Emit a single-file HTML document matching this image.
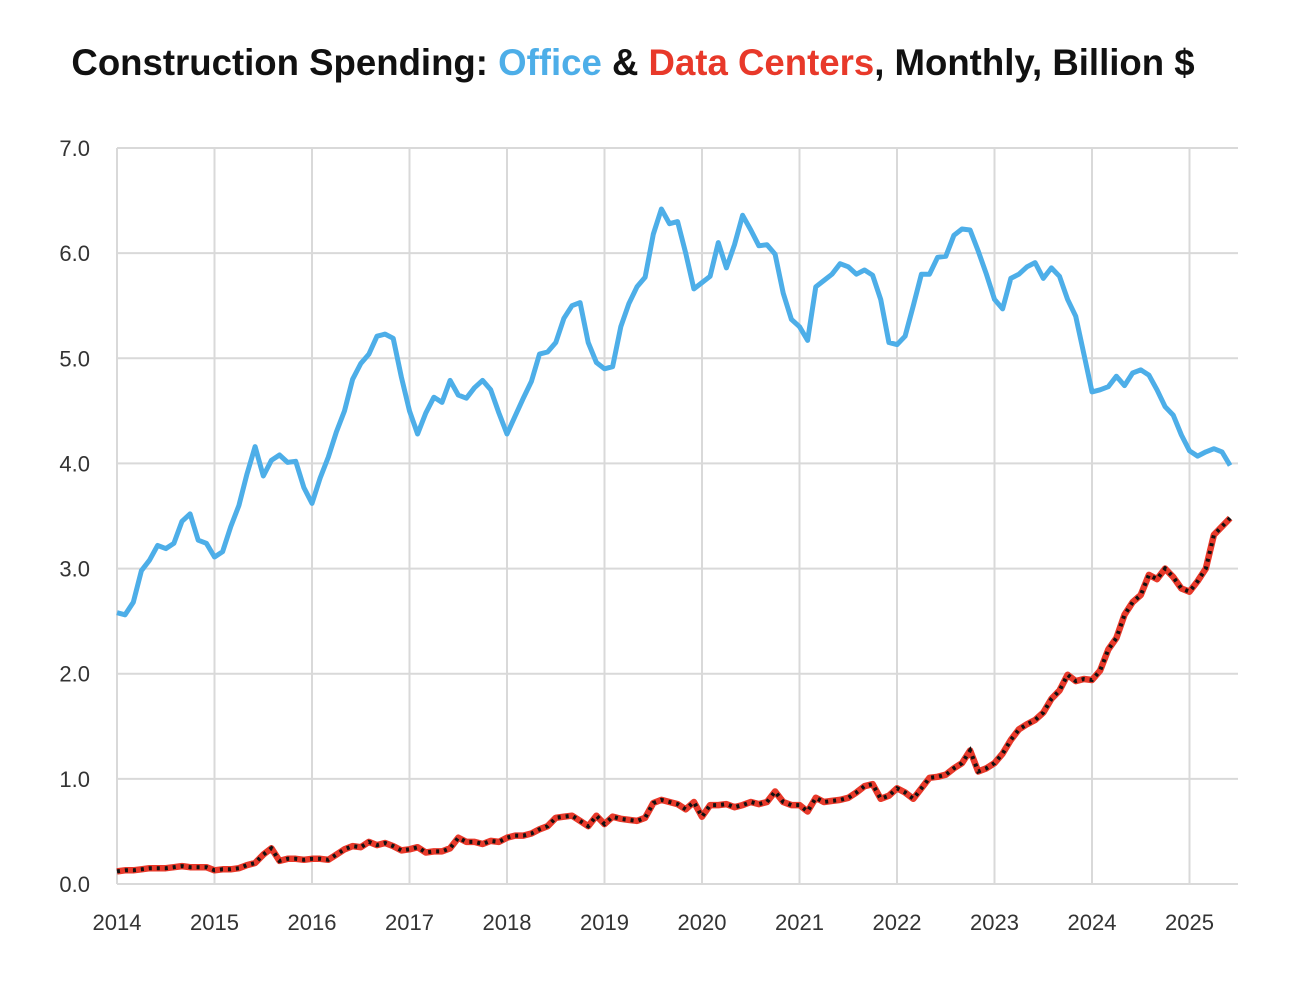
<!DOCTYPE html>
<html><head><meta charset="utf-8"><style>
body{margin:0;background:#fff;width:1300px;height:998px;overflow:hidden;font-family:"Liberation Sans",sans-serif}
</style></head><body>
<svg id="chart" width="1300" height="998" xmlns="http://www.w3.org/2000/svg">
<text x="633" y="75" text-anchor="middle" font-family="Liberation Sans, sans-serif" font-weight="bold" font-size="36.6" fill="#111">Construction Spending: <tspan fill="#4DAEE8">Office</tspan> &amp; <tspan fill="#E8392A">Data Centers</tspan>, Monthly, Billion $</text>
<g id="grid"></g>
<g id="axes"></g>
<g id="series"></g>
</svg>
<script>
const yTicks=[0,1,2,3,4,5,6,7];
const yTickLabels=["0.0","1.0","2.0","3.0","4.0","5.0","6.0","7.0"];
const xYears=[2014,2015,2016,2017,2018,2019,2020,2021,2022,2023,2024,2025];
const office=[
2.58,2.56,2.68,2.98,3.08,3.22,3.19,3.24,3.45,3.52,3.27,3.24,
3.11,3.16,3.40,3.60,3.90,4.16,3.88,4.03,4.08,4.01,4.02,3.77,
3.62,3.86,4.06,4.30,4.50,4.80,4.95,5.04,5.21,5.23,5.19,4.82,
4.50,4.28,4.48,4.63,4.58,4.79,4.65,4.62,4.72,4.79,4.70,4.48,
4.28,4.45,4.62,4.78,5.04,5.06,5.15,5.38,5.50,5.53,5.15,4.96,
4.90,4.92,5.30,5.52,5.68,5.77,6.18,6.42,6.28,6.30,6.00,5.66,
5.72,5.78,6.10,5.86,6.08,6.36,6.22,6.07,6.08,5.99,5.62,5.37,
5.30,5.17,5.68,5.74,5.80,5.90,5.87,5.80,5.84,5.79,5.56,5.15,
5.13,5.21,5.50,5.80,5.80,5.96,5.97,6.17,6.23,6.22,6.02,5.80,
5.56,5.47,5.76,5.80,5.87,5.91,5.76,5.86,5.78,5.56,5.40,5.04,
4.68,4.70,4.73,4.83,4.74,4.86,4.89,4.84,4.70,4.54,4.46,4.27,
4.12,4.07,4.11,4.14,4.11,3.98];
const dataCenters=[
.12,.13,.13,.14,.15,.15,.15,.16,.17,.16,.16,.16,
.13,.14,.14,.15,.18,.20,.28,.34,.22,.24,.24,.23,
.24,.24,.23,.28,.33,.36,.35,.40,.37,.39,.36,.32,
.33,.35,.30,.31,.31,.34,.44,.40,.40,.38,.41,.40,
.44,.46,.46,.48,.52,.55,.63,.64,.65,.60,.55,.65,
.57,.64,.62,.61,.60,.63,.77,.80,.78,.76,.71,.78,
.64,.75,.75,.76,.73,.75,.78,.76,.78,.88,.78,.75,
.75,.69,.82,.78,.79,.80,.82,.87,.93,.95,.81,.84,
.91,.87,.81,.91,1.01,1.02,1.04,1.10,1.15,1.27,1.07,1.10,
1.15,1.24,1.37,1.47,1.52,1.56,1.63,1.76,1.84,1.99,1.93,1.95,
1.94,2.03,2.23,2.34,2.56,2.68,2.75,2.94,2.90,3.00,2.92,2.81,
2.78,2.88,3.00,3.32,3.40,3.48];
const L=117,R=1238,T=148,B=884,PY=97.5;
const NS="http://www.w3.org/2000/svg";
function xs(year){return L+(year-2014)*PY;}
function xm(i){return xs(2014+i/12);}
function ys(v){return B-(v/7)*(B-T);}
function mk(tag,attrs,parent){const e=document.createElementNS(NS,tag);for(const k in attrs)e.setAttribute(k,attrs[k]);parent.appendChild(e);return e;}
const grid=document.getElementById('grid'),axes=document.getElementById('axes'),series=document.getElementById('series');
yTicks.forEach((t,i)=>{
 const l=mk('line',{x1:L,x2:R,y1:ys(t),y2:ys(t),stroke:'#d9d9d9','stroke-width':2},grid);
 
 
 const tx=mk('text',{x:90,y:ys(t)+8,'text-anchor':'end','font-size':22,fill:'#333'},axes);
 tx.textContent=yTickLabels[i];
 
 
});
xYears.forEach(yr=>{
 const l=mk('line',{x1:xs(yr),x2:xs(yr),y1:T,y2:B,stroke:'#d9d9d9','stroke-width':2},grid);
 
 
 const tx=mk('text',{x:xs(yr),y:930,'text-anchor':'middle','font-size':22,fill:'#333'},axes);
 tx.textContent=String(yr);
 
 
});
function pts(arr){return arr.map((v,i)=>xm(i).toFixed(1)+','+ys(v).toFixed(1)).join(' ');}
const o=mk('polyline',{points:pts(office),fill:'none',stroke:'#4DAEE8','stroke-width':5,'stroke-linejoin':'round'},series);


const d=mk('polyline',{points:pts(dataCenters),fill:'none',stroke:'#E8392A','stroke-width':6.5,'stroke-linejoin':'round'},series);


const dd=mk('polyline',{points:pts(dataCenters),fill:'none',stroke:'#111','stroke-width':4,'stroke-dasharray':'3 5'},series);


</script>
</body></html>
